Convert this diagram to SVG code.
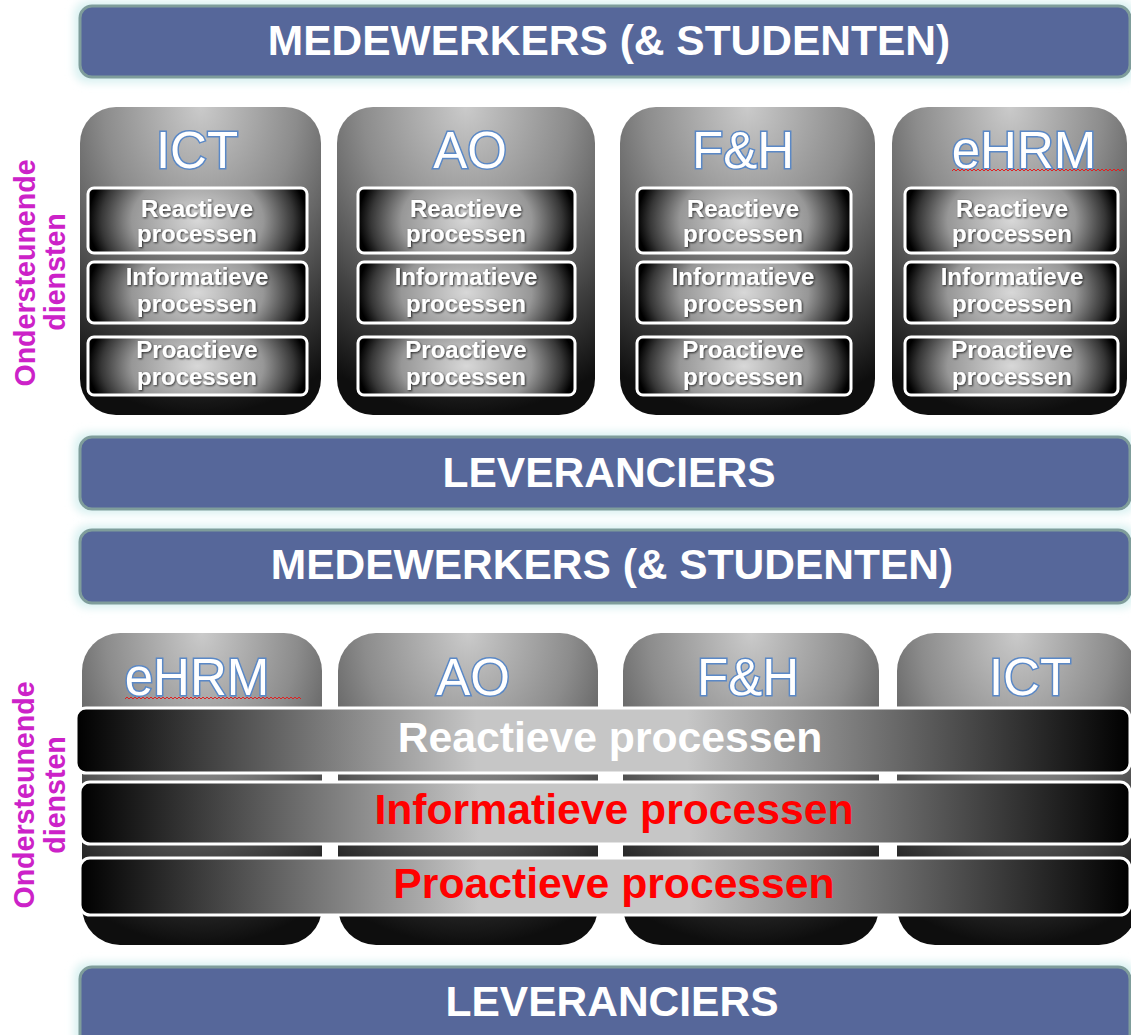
<svg xmlns="http://www.w3.org/2000/svg" width="1131" height="1035" viewBox="0 0 1131 1035">
  <defs>
    <!-- column body: light at top centre, fading to near black at the bottom -->
    <radialGradient id="colGrad" cx="0.5" cy="0" r="1">
      <stop offset="0" stop-color="#cacaca"/>
      <stop offset="0.4" stop-color="#8c8c8c"/>
      <stop offset="0.75" stop-color="#404040"/>
      <stop offset="1" stop-color="#0e0e0e"/>
    </radialGradient>
    <!-- small process boxes: light centre, black side edges -->
    <radialGradient id="boxGrad" cx="0.5" cy="0.5" r="0.5" gradientTransform="translate(0.5 0.5) scale(1 2.4) translate(-0.5 -0.5)">
      <stop offset="0" stop-color="#d8d8d8"/>
      <stop offset="0.6" stop-color="#979797"/>
      <stop offset="0.88" stop-color="#363636"/>
      <stop offset="1" stop-color="#000000"/>
    </radialGradient>
    <!-- wide process bars: black at both ends, light grey in the middle -->
    <linearGradient id="barGrad" x1="0" y1="0" x2="1" y2="0">
      <stop offset="0" stop-color="#000000"/>
      <stop offset="0.38" stop-color="#c6c6c6"/>
      <stop offset="0.58" stop-color="#c6c6c6"/>
      <stop offset="1" stop-color="#000000"/>
    </linearGradient>
    <filter id="glow" x="-5%" y="-30%" width="110%" height="160%">
      <feGaussianBlur stdDeviation="4"/>
    </filter>
    <filter id="txtShadow" x="-10%" y="-30%" width="120%" height="160%">
      <feDropShadow dx="1" dy="1" stdDeviation="1.2" flood-color="#000" flood-opacity="0.75"/>
    </filter>
  </defs>
  <style>
    .halo { fill: #d9f1f1; filter: url(#glow); }
    .banner { fill: #56679a; stroke: #7f9d9b; stroke-width: 3; }
    .bannerText { font-family: "Liberation Sans", Arial, sans-serif; font-weight: bold; font-size: 42.5px; fill: #ffffff; text-anchor: middle; }
    .col { fill: url(#colGrad); }
    .title { font-family: "Liberation Sans", Arial, sans-serif; font-size: 51px; fill: #ffffff; stroke: #5a88c6; stroke-width: 3px; paint-order: stroke; text-anchor: middle; }
    .box { fill: url(#boxGrad); stroke: #ffffff; stroke-width: 3; }
    .boxText { font-family: "Liberation Sans", Arial, sans-serif; font-weight: bold; font-size: 24px; fill: #ffffff; text-anchor: middle; filter: url(#txtShadow); }
    .bar { fill: url(#barGrad); stroke: #ffffff; stroke-width: 3; }
    .barText { font-family: "Liberation Sans", Arial, sans-serif; font-weight: bold; font-size: 42.7px; text-anchor: middle; }
    .side { font-family: "Liberation Sans", Arial, sans-serif; font-weight: bold; font-size: 28.6px; fill: #cc22c8; text-anchor: middle; }
    .squiggle { fill: none; stroke: #e02020; stroke-width: 1; }
  </style>

  <rect width="1131" height="1035" fill="#ffffff"/>

  <!-- upper layout -->
  <g id="banner-medewerkers-top">
    <rect class="halo" x="74" y="1" width="1062" height="82" rx="14"/>
    <rect class="banner" x="80" y="6" width="1050" height="71" rx="12"/>
    <text class="bannerText" x="609" y="55">MEDEWERKERS (&amp; STUDENTEN)</text>
  </g>

  <g id="side-label-top">
    <text class="side" transform="translate(35 273) rotate(-90)">Ondersteunende</text>
    <text class="side" transform="translate(65 272) rotate(-90)">diensten</text>
  </g>

  <g id="col-ict-top">
    <rect class="col" x="80" y="107" width="241" height="308" rx="36"/>
    <text class="title" x="197" y="168">ICT</text>
    <rect class="box" x="88" y="188" width="219" height="65" rx="6"/>
    <text class="boxText" x="197" y="217">Reactieve</text>
    <text class="boxText" x="197" y="242">processen</text>
    <rect class="box" x="88" y="262" width="219" height="61" rx="6"/>
    <text class="boxText" x="197" y="285">Informatieve</text>
    <text class="boxText" x="197" y="312">processen</text>
    <rect class="box" x="88" y="337" width="219" height="58" rx="6"/>
    <text class="boxText" x="197" y="358">Proactieve</text>
    <text class="boxText" x="197" y="385">processen</text>
  </g>

  <g id="col-ao-top">
    <rect class="col" x="337" y="107" width="258" height="308" rx="36"/>
    <text class="title" x="470" y="168">AO</text>
    <rect class="box" x="358" y="188" width="217" height="65" rx="6"/>
    <text class="boxText" x="466" y="217">Reactieve</text>
    <text class="boxText" x="466" y="242">processen</text>
    <rect class="box" x="358" y="262" width="217" height="61" rx="6"/>
    <text class="boxText" x="466" y="285">Informatieve</text>
    <text class="boxText" x="466" y="312">processen</text>
    <rect class="box" x="358" y="337" width="217" height="58" rx="6"/>
    <text class="boxText" x="466" y="358">Proactieve</text>
    <text class="boxText" x="466" y="385">processen</text>
  </g>

  <g id="col-fh-top">
    <rect class="col" x="620" y="107" width="255" height="308" rx="36"/>
    <text class="title" x="743" y="168">F&amp;H</text>
    <rect class="box" x="637" y="188" width="214" height="65" rx="6"/>
    <text class="boxText" x="743" y="217">Reactieve</text>
    <text class="boxText" x="743" y="242">processen</text>
    <rect class="box" x="637" y="262" width="214" height="61" rx="6"/>
    <text class="boxText" x="743" y="285">Informatieve</text>
    <text class="boxText" x="743" y="312">processen</text>
    <rect class="box" x="637" y="337" width="214" height="58" rx="6"/>
    <text class="boxText" x="743" y="358">Proactieve</text>
    <text class="boxText" x="743" y="385">processen</text>
  </g>

  <g id="col-ehrm-top">
    <rect class="col" x="892" y="107" width="235" height="308" rx="36"/>
    <text class="title" x="1024" y="168">eHRM</text>
    <path class="squiggle" d="M952 171 l2 -2 l2 2 l2 -2 l2 2 l2 -2 l2 2 l2 -2 l2 2 l2 -2 l2 2 l2 -2 l2 2 l2 -2 l2 2 l2 -2 l2 2 l2 -2 l2 2 l2 -2 l2 2 l2 -2 l2 2 l2 -2 l2 2 l2 -2 l2 2 l2 -2 l2 2 l2 -2 l2 2 l2 -2 l2 2 l2 -2 l2 2 l2 -2 l2 2 l2 -2 l2 2 l2 -2 l2 2 l2 -2 l2 2 l2 -2 l2 2 l2 -2 l2 2 l2 -2 l2 2 l2 -2 l2 2 l2 -2 l2 2 l2 -2 l2 2 l2 -2 l2 2 l2 -2 l2 2 l2 -2 l2 2 l2 -2 l2 2 l2 -2 l2 2 l2 -2 l2 2 l2 -2 l2 2 l2 -2 l2 2 l2 -2 l2 2 l2 -2 l2 2 l2 -2 l2 2 l2 -2 l2 2 l2 -2 l2 2 l2 -2 l2 2 l2 -2 l2 2 l2 -2 l2 2"/>
    <rect class="box" x="905" y="188" width="213" height="65" rx="6"/>
    <text class="boxText" x="1012" y="217">Reactieve</text>
    <text class="boxText" x="1012" y="242">processen</text>
    <rect class="box" x="905" y="262" width="213" height="61" rx="6"/>
    <text class="boxText" x="1012" y="285">Informatieve</text>
    <text class="boxText" x="1012" y="312">processen</text>
    <rect class="box" x="905" y="337" width="213" height="58" rx="6"/>
    <text class="boxText" x="1012" y="358">Proactieve</text>
    <text class="boxText" x="1012" y="385">processen</text>
  </g>

  <g id="banner-leveranciers-top">
    <rect class="halo" x="74" y="432" width="1062" height="82" rx="14"/>
    <rect class="banner" x="80" y="437" width="1050" height="72" rx="12"/>
    <text class="bannerText" x="609" y="487">LEVERANCIERS</text>
  </g>

  <!-- lower layout -->
  <g id="banner-medewerkers-bottom">
    <rect class="halo" x="74" y="525" width="1062" height="83" rx="14"/>
    <rect class="banner" x="80" y="530" width="1050" height="73" rx="12"/>
    <text class="bannerText" x="612" y="579">MEDEWERKERS (&amp; STUDENTEN)</text>
  </g>

  <g id="side-label-bottom">
    <text class="side" transform="translate(34 795) rotate(-90)">Ondersteunende</text>
    <text class="side" transform="translate(65 795) rotate(-90)">diensten</text>
  </g>

  <g id="col-ehrm-bottom">
    <rect class="col" x="82" y="633" width="240" height="312" rx="38"/>
    <text class="title" x="197" y="695">eHRM</text>
    <path class="squiggle" d="M125 699 l2 -2 l2 2 l2 -2 l2 2 l2 -2 l2 2 l2 -2 l2 2 l2 -2 l2 2 l2 -2 l2 2 l2 -2 l2 2 l2 -2 l2 2 l2 -2 l2 2 l2 -2 l2 2 l2 -2 l2 2 l2 -2 l2 2 l2 -2 l2 2 l2 -2 l2 2 l2 -2 l2 2 l2 -2 l2 2 l2 -2 l2 2 l2 -2 l2 2 l2 -2 l2 2 l2 -2 l2 2 l2 -2 l2 2 l2 -2 l2 2 l2 -2 l2 2 l2 -2 l2 2 l2 -2 l2 2 l2 -2 l2 2 l2 -2 l2 2 l2 -2 l2 2 l2 -2 l2 2 l2 -2 l2 2 l2 -2 l2 2 l2 -2 l2 2 l2 -2 l2 2 l2 -2 l2 2 l2 -2 l2 2 l2 -2 l2 2 l2 -2 l2 2 l2 -2 l2 2 l2 -2 l2 2 l2 -2 l2 2 l2 -2 l2 2 l2 -2 l2 2 l2 -2 l2 2 l2 -2 l2 2"/>
  </g>

  <g id="col-ao-bottom">
    <rect class="col" x="338" y="633" width="260" height="312" rx="38"/>
    <text class="title" x="473" y="695">AO</text>
  </g>

  <g id="col-fh-bottom">
    <rect class="col" x="623" y="633" width="256" height="312" rx="38"/>
    <text class="title" x="748" y="695">F&amp;H</text>
  </g>

  <g id="col-ict-bottom">
    <rect class="col" x="897" y="633" width="240" height="312" rx="38"/>
    <text class="title" x="1030" y="695">ICT</text>
  </g>

  <g id="bar-reactieve">
    <rect class="bar" x="76" y="708" width="1054" height="65" rx="10"/>
    <text class="barText" x="610" y="752" fill="#ffffff">Reactieve processen</text>
  </g>

  <g id="bar-informatieve">
    <rect class="bar" x="80" y="782" width="1050" height="62" rx="10"/>
    <text class="barText" x="614" y="824" fill="#ff0000">Informatieve processen</text>
  </g>

  <g id="bar-proactieve">
    <rect class="bar" x="80" y="858" width="1050" height="57" rx="10"/>
    <text class="barText" x="614" y="898" fill="#ff0000">Proactieve processen</text>
  </g>

  <g id="banner-leveranciers-bottom">
    <rect class="halo" x="74" y="962" width="1062" height="90" rx="14"/>
    <rect class="banner" x="80" y="967" width="1050" height="80" rx="12"/>
    <text class="bannerText" x="612" y="1016">LEVERANCIERS</text>
  </g>
</svg>
